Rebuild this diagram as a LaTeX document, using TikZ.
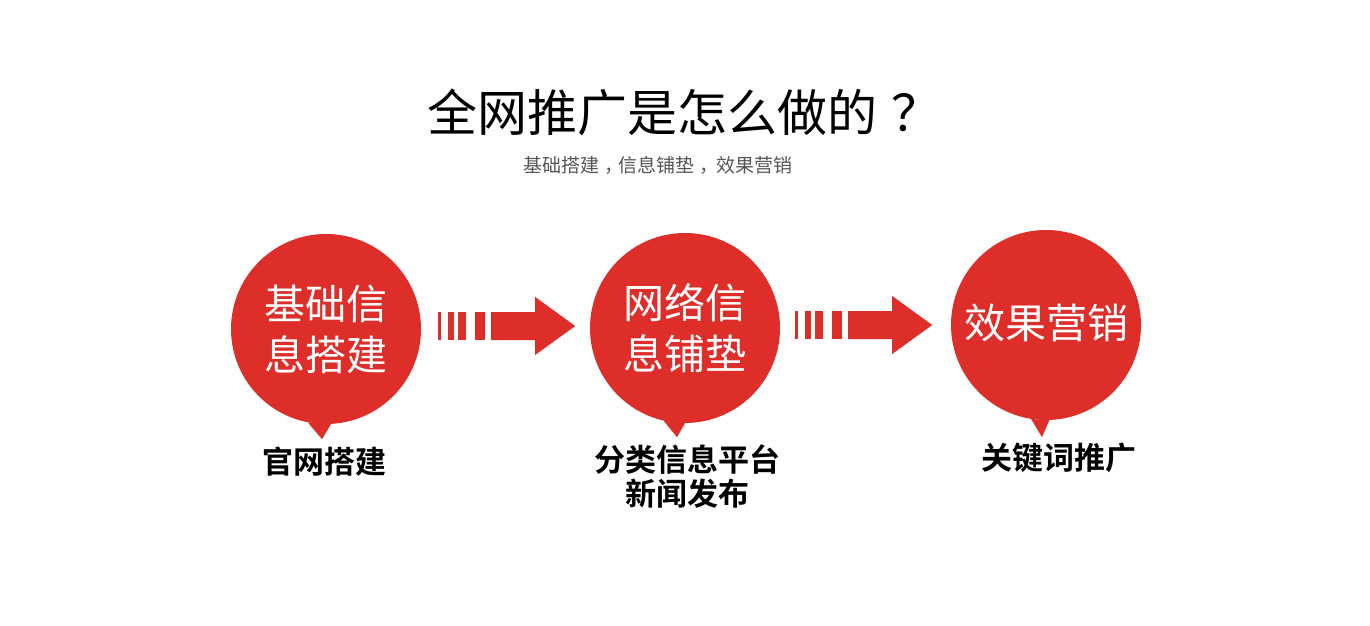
\documentclass[tikz,border=0pt]{standalone}
\usepackage{fontspec}
\newfontfamily\cjk{Noto Sans CJK SC}[BoldFont={Noto Sans CJK SC Bold}]
\usetikzlibrary{calc}
\definecolor{bubblered}{RGB}{221,46,42}
\definecolor{subgray}{RGB}{85,85,85}
\tikzset{
  bubble/.style={circle,fill=bubblered,minimum size=190pt,inner sep=0pt,text=white,
    align=center,font=\cjk\fontsize{41}{51}\selectfont},
  caption/.style={align=center,font=\cjk\bfseries\fontsize{31}{34}\selectfont},
}
% striped block arrow, #1 = left end
\newcommand{\stripearrow}[1]{%
  \begin{scope}[shift={(#1)}]
    \fill[bubblered] (0,-14) rectangle (3,14);
    \fill[bubblered] (10,-14) rectangle (16,14);
    \fill[bubblered] (20,-14) rectangle (28,14);
    \fill[bubblered] (37,-14) rectangle (47,14);
    \fill[bubblered] (53,-14) -- (97,-14) -- (97,-29) -- (137,0) -- (97,29) -- (97,14) -- (53,14) -- cycle;
  \end{scope}}

\begin{document}
\begin{tikzpicture}[x=1pt,y=-1pt]
\useasboundingbox[fill=white] (0,0) rectangle (1370,626);
\node[font=\cjk\fontsize{50}{60}\selectfont] (title) at (684,112) {全网推广是怎么做的\hspace{14pt}？};
\node[font=\cjk\fontsize{19}{23}\selectfont,text=subgray] (sub) at (658,165)
  {基础搭建\hspace{5pt}，\hspace{-5pt}信息铺垫\hspace{5pt}，\hspace{-2pt}效果营销};
% bubbles
\node[bubble] (c1) at (326,329) {基础信\\息搭建};
\node[bubble] (c2) at (685,328) {网络信\\息铺垫};
\node[bubble] (c3) at (1046,325) {\raisebox{7pt}{效果营销}};
\fill[bubblered] (c1.-101) -- ($(c1.south)+(-4,15)$) -- (c1.-87) -- cycle;
\fill[bubblered] (c2.-103) -- ($(c2.south)+(-8,14)$) -- (c2.-90) -- cycle;
\fill[bubblered] (c3.-99) -- ($(c3.south)+(-4,17)$) -- (c3.-88) -- cycle;
% arrows
\stripearrow{$(c1.east)+(17,-3)$}
\stripearrow{$(c2.east)+(15,-3)$}
% captions
\node[caption] (t1) at (324,462) {官网搭建};
\node[caption] (t2) at (687,476) {分类信息平台\\新闻发布};
\node[caption] (t3) at (1059,458) {关键词推广};
\end{tikzpicture}
\end{document}
